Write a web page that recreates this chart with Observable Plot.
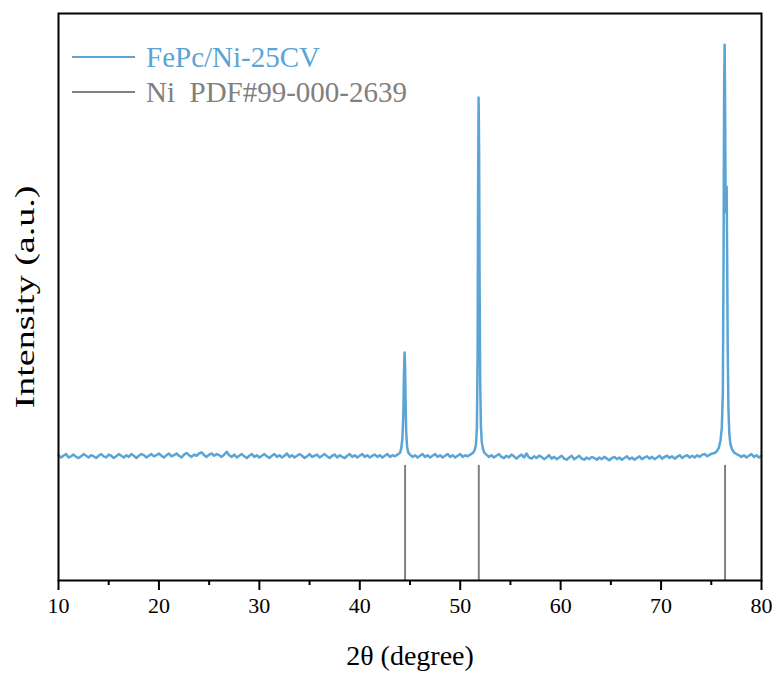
<!DOCTYPE html>
<html>
<head>
<meta charset="utf-8">
<script src="https://cdn.jsdelivr.net/npm/d3@7"></script>
<script src="https://cdn.jsdelivr.net/npm/@observablehq/plot@0.6"></script>
<style>
  html, body { margin: 0; padding: 0; background: #fff; }
  #wrap { position: relative; width: 777px; height: 675px; font-family: "Liberation Serif", "Times New Roman", serif; }
  .leg { position: absolute; left: 72px; height: 34px; line-height: 34px; display: flex; align-items: center; font-size: 29px; white-space: pre; }
  .leg .ln { width: 63px; height: 2px; margin-right: 11px; }
  #wrap svg text { font-family: "Liberation Serif", "Times New Roman", serif !important; font-variant: normal !important; }
</style>
</head>
<body>
<div id="wrap"></div>
<script>
const twoTheta = [
  10.00,10.25,10.50,10.75,11.00,11.25,11.50,11.75,12.00,12.25,12.50,12.75,13.00,13.25,13.50,13.75,
  14.00,14.25,14.50,14.75,15.00,15.25,15.50,15.75,16.00,16.25,16.50,16.75,17.00,17.25,17.50,17.75,
  18.00,18.25,18.50,18.75,19.00,19.25,19.50,19.75,20.00,20.25,20.50,20.75,21.00,21.25,21.50,21.75,
  22.00,22.25,22.50,22.75,23.00,23.25,23.50,23.75,24.00,24.25,24.50,24.75,25.00,25.25,25.50,25.75,
  26.00,26.25,26.50,26.75,27.00,27.25,27.50,27.75,28.00,28.25,28.50,28.75,29.00,29.25,29.50,29.75,
  30.00,30.25,30.50,30.75,31.00,31.25,31.50,31.75,32.00,32.25,32.50,32.75,33.00,33.25,33.50,33.75,
  34.00,34.25,34.50,34.75,35.00,35.25,35.50,35.75,36.00,36.25,36.50,36.75,37.00,37.25,37.50,37.75,
  38.00,38.25,38.50,38.75,39.00,39.25,39.50,39.75,40.00,40.25,40.50,40.75,41.00,41.25,41.50,41.75,
  42.00,42.25,42.50,42.75,43.00,43.25,43.50,43.75,44.00,
  44.12,44.24,44.33,44.40,44.46,44.51,44.56,44.62,44.71,44.82,
  45.00,45.25,45.50,45.75,46.00,46.25,46.50,46.75,47.00,47.25,47.50,47.75,48.00,48.25,48.50,48.75,
  49.00,49.25,49.50,49.75,50.00,50.25,50.50,50.75,51.00,51.25,
  51.42,51.57,51.66,51.73,51.78,51.83,51.88,51.93,51.99,52.06,52.15,52.28,52.42,
  52.60,52.85,53.10,53.35,53.60,53.85,54.10,54.35,54.60,54.85,55.10,55.35,55.60,55.85,56.10,56.35,
  56.60,56.85,57.10,57.35,57.60,57.85,58.10,58.35,58.60,58.85,59.10,59.35,59.60,59.85,60.10,60.35,
  60.60,60.85,61.10,61.35,61.60,61.85,62.10,62.35,62.60,62.85,63.10,63.35,63.60,63.85,64.10,64.35,
  64.60,64.85,65.10,65.35,65.60,65.85,66.10,66.35,66.60,66.85,67.10,67.35,67.60,67.85,68.10,68.35,
  68.60,68.85,69.10,69.35,69.60,69.85,70.10,70.35,70.60,70.85,71.10,71.35,71.60,71.85,72.10,72.35,
  72.60,72.85,73.10,73.35,73.60,73.85,74.10,74.35,74.60,74.85,75.10,75.35,
  75.55,75.75,75.92,76.05,76.15,76.22,76.28,76.33,76.38,76.43,76.48,76.53,76.58,76.64,76.71,76.80,
  76.90,77.05,77.25,77.50,77.75,78.00,78.25,78.50,78.75,79.00,79.25,79.50,79.75,80.00
];
const intensity = [
  221,217,220,223,217,219,222,218,216,219,223,220,217,221,219,216,
  220,223,219,217,222,220,216,219,223,220,217,221,218,223,220,216,
  220,223,221,217,220,223,219,221,224,220,217,221,224,219,221,224,
  220,217,222,225,221,218,222,220,224,226,221,218,222,224,220,223,
  221,218,222,227,221,218,222,217,220,223,219,216,220,223,218,221,
  217,220,223,219,216,220,223,218,221,217,220,224,218,221,217,220,
  223,220,216,219,223,218,220,222,217,220,223,219,216,220,222,217,
  221,218,216,220,223,218,221,217,220,223,218,221,217,220,222,218,
  221,217,220,223,218,221,219,222,225,
  232,250,290,365,402,380,318,262,236,226,
  222,218,221,217,220,223,218,221,217,220,223,218,221,217,220,223,
  218,221,217,220,223,218,221,219,222,225,
  229,240,268,390,690,852,760,530,350,272,244,231,225,
  222,218,221,217,220,223,218,216,220,217,222,219,215,219,222,217,
  224,217,215,219,216,220,218,214,217,221,215,218,214,217,220,215,
  213,217,220,214,217,220,215,213,217,214,218,216,213,217,214,218,
  215,212,216,218,214,217,213,216,219,214,217,213,216,219,214,217,
  219,215,218,214,217,220,215,218,220,216,219,215,218,221,216,219,
  221,217,220,217,221,218,222,223,219,222,224,225,
  228,234,247,270,330,560,870,945,830,650,675,695,570,400,300,258,
  241,232,226,223,221,218,221,217,220,223,218,221,217,220
];
// Ni reference lines (PDF#99-000-2639)
const niPositions = [44.51, 51.85, 76.37];
const niHeights = [203, 203, 203];

const xTicks = [10, 20, 30, 40, 50, 60, 70, 80];
const xMinorTicks = [15, 25, 35, 45, 55, 65, 75];

const seriesNames = ["FePc/Ni-25CV", "Ni  PDF#99-000-2639"];
const seriesColors = ["#5ba5d6", "#808080"];

const pattern = twoTheta.map((t, i) => ({t, v: intensity[i]}));
const refs = niPositions.map((t, i) => ({t, h: niHeights[i]}));

const serif = "Liberation Serif, Times New Roman, serif";
const chart = Plot.plot({
  width: 777,
  height: 675,
  marginTop: 13,
  marginBottom: 95,
  marginLeft: 58,
  marginRight: 16,
  style: {fontFamily: serif, background: "#fff", color: "#000"},
  x: {domain: [10, 80]},
  y: {domain: [0, 1000]},
  marks: [
    Plot.ruleX(refs, {x: "t", y1: 0, y2: "h", stroke: seriesColors[1], strokeWidth: 2}),
    Plot.line(pattern, {x: "t", y: "v", stroke: seriesColors[0], strokeWidth: 2.5}),
    Plot.axisX(xMinorTicks, {tickSize: 5, strokeWidth: 2, text: null, label: null}),
    Plot.axisX(xTicks, {tickSize: 10, strokeWidth: 2, tickPadding: 7, fontSize: 22,
      label: "2θ (degree)", labelAnchor: "center", labelArrow: "none", labelOffset: 84}),
    Plot.axisY([], {label: "Intensity (a.u.)", labelAnchor: "center", labelArrow: "none", labelOffset: 44, fontSize: 28}),
    Plot.frame({stroke: "#000", strokeWidth: 2})
  ]
});
const wrap = document.getElementById("wrap");
wrap.appendChild(chart);

// force serif face on every SVG text
d3.select(chart).selectAll("text, g").attr("font-family", serif).attr("font-variant", "normal");

// axis label font sizes (reference's y title is set in a wider face)
d3.select(chart).selectAll("g[aria-label='x-axis label'] text").style("font-size", "28px");
d3.select(chart).selectAll("g[aria-label='y-axis label'] text")
  .style("font-size", "28px")
  .attr("transform", function() { return (this.getAttribute("transform") || "") + " scale(1.36,1)"; });

// legend
const legTops = [40, 75];
seriesNames.forEach((name, i) => {
  const d = document.createElement("div");
  d.className = "leg";
  d.style.top = legTops[i] + "px";
  d.style.color = seriesColors[i];
  const ln = document.createElement("span");
  ln.className = "ln";
  ln.style.background = seriesColors[i];
  d.appendChild(ln);
  d.appendChild(document.createTextNode(name));
  wrap.appendChild(d);
});
</script>
</body>
</html>
